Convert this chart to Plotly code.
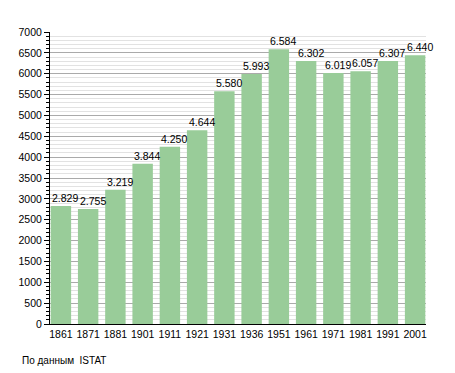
import plotly.graph_objects as go

years = ["1861", "1871", "1881", "1901", "1911", "1921", "1931", "1936", "1951", "1961", "1971", "1981", "1991", "2001"]
population = [2829, 2755, 3219, 3844, 4250, 4644, 5580, 5993, 6584, 6302, 6019, 6057, 6307, 6440]
y_ticks = list(range(0, 7001, 500))

fig = go.Figure(go.Bar(
    x=years, y=population,
    marker=dict(color="#99cc99", line=dict(width=0)),
    cliponaxis=False,
))

for i, val in enumerate(population):
    fig.add_annotation(
        x=i, y=val, xref="x", yref="y",
        text=f"{val:,}".replace(",", "."),
        xanchor="left", yanchor="bottom", xshift=-10.5, yshift=0,
        showarrow=False,
        font=dict(family="Liberation Sans, Arial", size=10.5, color="black"),
    )

fig.update_layout(
    width=455, height=373,
    margin=dict(l=42, r=37, t=24, b=57),
    paper_bgcolor="white", plot_bgcolor="white",
    bargap=0.25,
    showlegend=False,
    font=dict(family="Liberation Sans, Arial", size=10.5, color="black"),
)
fig.add_annotation(text="По данным  ISTAT", xref="paper", yref="paper",
                   x=-30/376, y=-36/292, xanchor="left", yanchor="middle",
                   showarrow=False, font=dict(size=10))

fig.update_yaxes(
    range=[0, 7000], tickvals=y_ticks, tickformat="d",
    showline=True, linecolor="black", linewidth=1,
    ticks="outside", ticklen=5, tickcolor="black",
    showgrid=True, gridcolor="#aaaaaa", gridwidth=1,
    minor=dict(dtick=100, ticks="outside", ticklen=3, tickcolor="black",
               showgrid=True, gridcolor="#e2e2e2", gridwidth=1),
    zeroline=False,
    tickfont=dict(size=10.5),
)
fig.update_xaxes(
    type="category",
    range=[-0.4, 13.4],
    showline=True, linecolor="black", linewidth=1,
    ticks="", tickfont=dict(size=10.5),
)

fig.write_html("out.html")
